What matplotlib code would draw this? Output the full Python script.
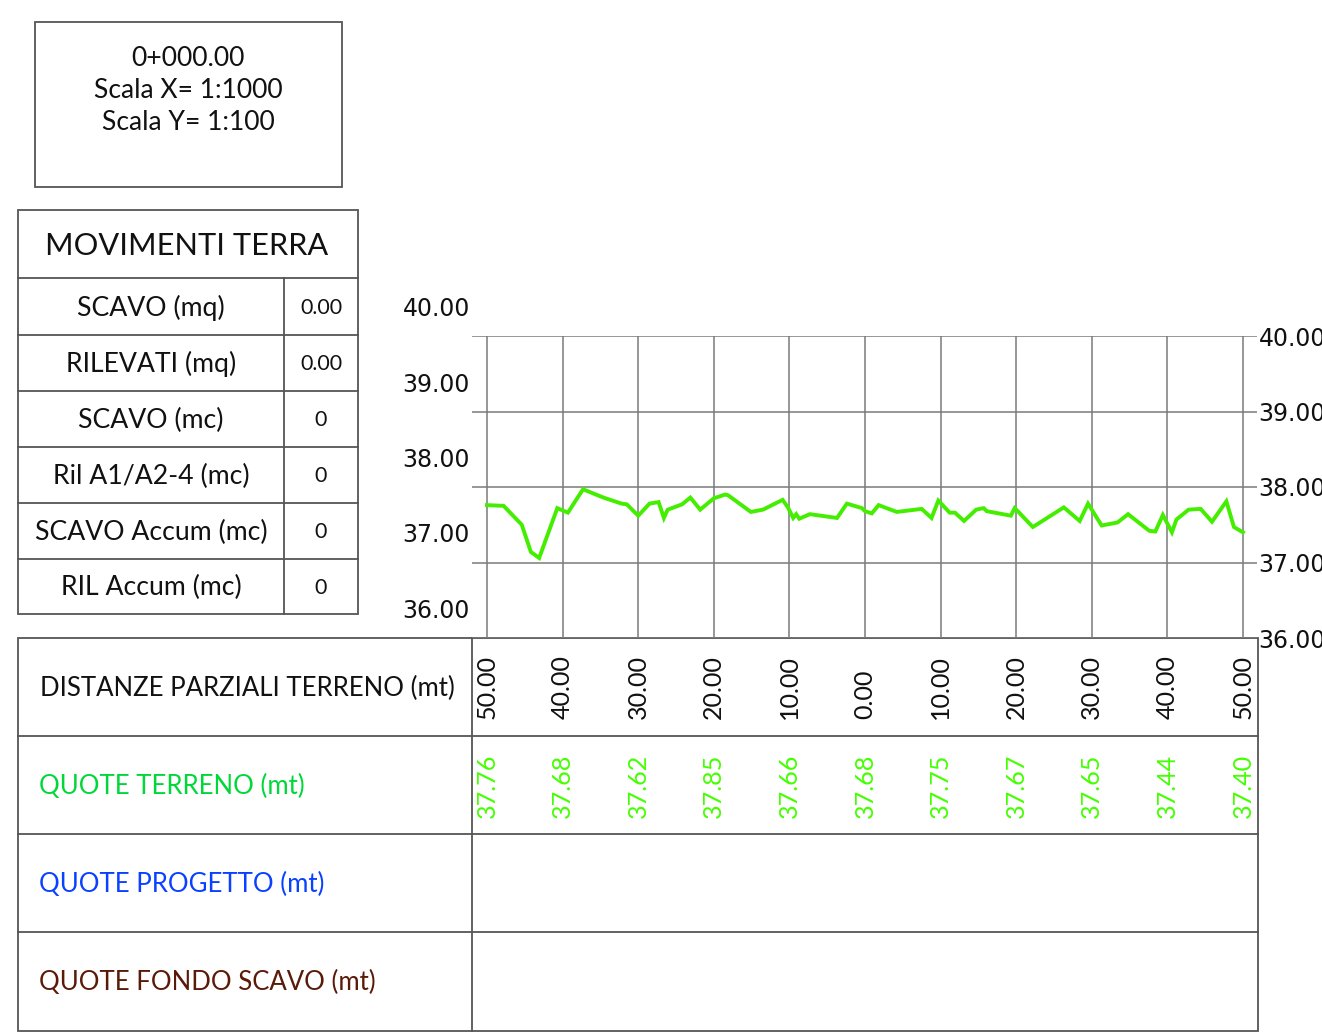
import matplotlib
matplotlib.use("Agg")
import matplotlib.pyplot as plt
from matplotlib.patches import Rectangle
from matplotlib.transforms import blended_transform_factory, offset_copy

# ---------------- data ----------------
profile_x = [-50.0, -47.8, -45.4, -44.2, -43.1, -40.7, -39.3, -37.3, -34.6, -32.2, -31.5,
             -30.0, -28.5, -27.3, -26.6, -26.1, -24.2, -23.1, -21.8, -20.0, -18.5, -18.1,
             -15.1, -13.5, -10.9, -10.2, -9.5, -9.1, -8.7, -7.3, -3.7, -2.4, -0.4, 0.0,
             0.9, 1.8, 4.2, 7.5, 8.8, 9.7, 11.2, 11.9, 13.1, 14.7, 15.7, 16.1, 19.3, 19.8,
             20.3, 22.2, 26.3, 28.4, 29.5, 31.3, 33.4, 34.8, 37.6, 38.4, 39.4, 40.6, 41.2,
             42.8, 44.4, 45.9, 47.8, 48.8, 50.0]
profile_z = [37.76, 37.75, 37.50, 37.14, 37.06, 37.72, 37.66, 37.97, 37.86, 37.78, 37.77,
             37.62, 37.78, 37.80, 37.59, 37.70, 37.77, 37.86, 37.70, 37.85, 37.90, 37.89,
             37.67, 37.70, 37.83, 37.73, 37.59, 37.64, 37.58, 37.64, 37.59, 37.78, 37.72, 37.68,
             37.65, 37.76, 37.67, 37.71, 37.59, 37.82, 37.66, 37.66, 37.55, 37.70, 37.72, 37.68,
             37.62, 37.72, 37.67, 37.47, 37.73, 37.55, 37.78, 37.49, 37.53, 37.64, 37.42, 37.41,
             37.63, 37.40, 37.57, 37.70, 37.71, 37.54, 37.81, 37.47, 37.40]

stations = [-50, -40, -30, -20, -10, 0, 10, 20, 30, 40, 50]
dist_labels = ["50.00", "40.00", "30.00", "20.00", "10.00", "0.00",
               "10.00", "20.00", "30.00", "40.00", "50.00"]
quote_terreno = [37.76, 37.68, 37.62, 37.85, 37.66, 37.68, 37.75, 37.67, 37.65, 37.44, 37.40]
y_ticks = [36.0, 37.0, 38.0, 39.0, 40.0]

header_lines = ["0+000.00", "Scala X= 1:1000", "Scala Y= 1:100"]
mov_title = "MOVIMENTI TERRA"
mov_labels = ["SCAVO (mq)", "RILEVATI (mq)", "SCAVO (mc)", "Ril A1/A2-4 (mc)",
              "SCAVO Accum (mc)", "RIL Accum (mc)"]
mov_values = ["0.00", "0.00", "0", "0", "0", "0"]
band_labels = ["DISTANZE PARZIALI TERRENO (mt)", "QUOTE TERRENO (mt)",
               "QUOTE PROGETTO (mt)", "QUOTE FONDO SCAVO (mt)"]
band_colors = ["#111111", "#00d83a", "#0a40ff", "#5a1a08"]

# ---------------- figure ----------------
W, H = 1322, 1033
fig = plt.figure(figsize=(W / 100, H / 100), dpi=100)
bg = fig.add_axes([0, 0, 1, 1])
bg.set_xlim(0, W)
bg.set_ylim(H, 0)
bg.axis("off")
renderer = fig.canvas.get_renderer()

SANS = ["Lato", "DejaVu Sans"]
EDGE = "#555555"
LW = 1.3


def fit_text(axis, x, y, s, target, **kw):
    t = axis.text(x, y, s, fontsize=10, family=SANS, **kw)
    w = t.get_window_extent(renderer).width
    size = 10 * target / w
    t.set_fontsize(size)
    return size


def put(axis, x, y, s, size, **kw):
    return axis.text(x, y, s, fontsize=size, family=SANS, **kw)


def box(x0, y0, x1, y1):
    bg.add_patch(Rectangle((x0, y0), x1 - x0, y1 - y0, fill=False, ec=EDGE, lw=LW))


def hline(y, x0, x1):
    bg.plot([x0, x1], [y, y], color=EDGE, lw=LW)


def vline(x, y0, y1):
    bg.plot([x, x], [y0, y1], color=EDGE, lw=LW)


# header box
box(35, 22, 342, 187)
sz = fit_text(bg, 188, 90, header_lines[1], 189, ha="center", va="center", color="#111111")
put(bg, 188, 58, header_lines[0], sz, ha="center", va="center", color="#111111")
put(bg, 188, 123, header_lines[2], sz, ha="center", va="center", color="#111111")

# movimenti terra table
box(18, 210, 358, 614)
row_edges = [278, 335, 391, 447, 503, 559, 614]
for y in row_edges[:-1]:
    hline(y, 18, 358)
vline(284, 278, 614)
fit_text(bg, 187, 246, mov_title, 280, ha="center", va="center", color="#111111")
szl = fit_text(bg, 151, (row_edges[4] + row_edges[5]) / 2 + 1, mov_labels[4], 232,
               ha="center", va="center", color="#111111")
szv = fit_text(bg, 321, (row_edges[0] + row_edges[1]) / 2 + 1, mov_values[0], 42,
               ha="center", va="center", color="#111111")
for i, (lab, val) in enumerate(zip(mov_labels, mov_values)):
    yc = (row_edges[i] + row_edges[i + 1]) / 2
    if i != 4:
        put(bg, 151, yc + 1, lab, szl, ha="center", va="center", color="#111111")
    if i != 0:
        put(bg, 321, yc + 1, val, szv, ha="center", va="center", color="#111111")

# bottom band table
box(18, 638, 1258, 1031)
band_edges = [638, 736, 834, 932, 1031]
for y in band_edges[1:-1]:
    hline(y, 18, 1258)
vline(472, 638, 1031)
szb = fit_text(bg, 40, (band_edges[0] + band_edges[1]) / 2 + 1, band_labels[0], 412,
               ha="left", va="center", color=band_colors[0])
for i in range(1, 4):
    put(bg, 39, (band_edges[i] + band_edges[i + 1]) / 2 + 1, band_labels[i], szb,
        ha="left", va="center", color=band_colors[i])

# ---------------- profile axes ----------------
px_l, px_r = 472, 1257        # axes extent in pixels
px_m50, px_p50 = 487, 1243    # pixel positions of -50 / +50
py_top, py_bot = 336, 638     # pixel positions of 40 / 36
scale = (px_p50 - px_m50) / 100.0
xmin = -50 - (px_m50 - px_l) / scale
xmax = 50 + (px_r - px_p50) / scale

ax = fig.add_axes([px_l / W, 1 - py_bot / H, (px_r - px_l) / W, (py_bot - py_top) / H])
ax.set_xlim(xmin, xmax)
ax.set_ylim(36, 40)
ax.patch.set_alpha(0)
for sp in ax.spines.values():
    sp.set_visible(False)
ax.set_xticks(stations)
ax.set_yticks(y_ticks)
ax.grid(True, color="#7a7a7a", lw=1.1)
ax.tick_params(axis="x", length=0, labelbottom=False)
ax.yaxis.tick_right()
ax.tick_params(axis="y", length=0, pad=1, labelsize=17, labelcolor="#111111")
ax.set_yticklabels([f"{v:.2f}" for v in y_ticks], family="DejaVu Sans")
ax.set_axisbelow(True)

ax.plot(profile_x, profile_z, color="#44ee00", lw=2.8, solid_joinstyle="miter", zorder=3)

# left axis labels (offset above the grid lines)
left_tr = offset_copy(ax.get_yaxis_transform(), fig=fig, x=-2, y=27, units="dots")
for v in y_ticks:
    ax.text(0, v, f"{v:.2f}", transform=left_tr, ha="right", va="center",
            fontsize=17, family="DejaVu Sans", color="#111111")

# rotated station labels
btr = blended_transform_factory(ax.transData, bg.transData)
szr = None
for i, (s, lab, q) in enumerate(zip(stations, dist_labels, quote_terreno)):
    if szr is None:
        t = ax.text(s, 719, lab, transform=btr, rotation=90, rotation_mode="anchor",
                    ha="left", va="center", fontsize=10, family=SANS, color="#111111")
        szr = 10 * 64 / t.get_window_extent(renderer).height
        t.set_fontsize(szr)
    else:
        ax.text(s, 719, lab, transform=btr, rotation=90, rotation_mode="anchor",
                ha="left", va="center", fontsize=szr, family=SANS, color="#111111")
    ax.text(s, 818, f"{q:.2f}", transform=btr, rotation=90, rotation_mode="anchor",
            ha="left", va="center", fontsize=szr, family=SANS, color="#44ff00")

fig.savefig("out.png", dpi=100)
